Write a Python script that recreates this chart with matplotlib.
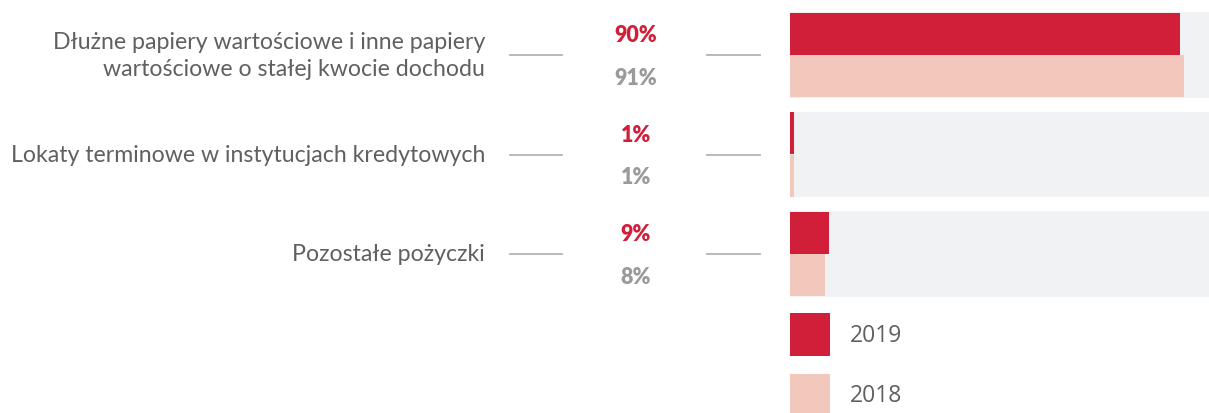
import matplotlib
matplotlib.use("Agg")
import matplotlib.pyplot as plt
import matplotlib.transforms as mtransforms
import numpy as np

# data
categories = ["Dłużne papiery wartościowe i inne papiery\nwartościowe o stałej kwocie dochodu",
              "Lokaty terminowe w instytucjach kredytowych",
              "Pozostałe pożyczki"]
values_2019 = [90, 1, 9]
values_2018 = [91, 1, 8]
years = ["2019", "2018"]

red = "#d11f3a"
pink = "#f2c7bc"
bg = "#f1f2f4"
grey_txt = "#9a9a9a"
label_col = "#606060"
line_col = "#b3b3b3"

W, H = 1209, 414
fig = plt.figure(figsize=(W / 100, H / 100), dpi=100)
px_per_pct = 390 / 90
left_px = 790
ax = fig.add_axes([left_px / W, 0, (W - left_px) / W, 1])
row_px = 99.5
top_px = 56
xmax = (W - left_px) / px_per_pct

rows = np.arange(len(categories))
h = 0.425

# grey background bars (run to the right edge)
bgs = ax.barh(rows, xmax * 1.2, height=0.855, left=0, color=bg, zorder=0)
for b in bgs:
    b.set_clip_on(False)
ax.barh(rows - h / 2, values_2019, height=h, color=red, zorder=2)
ax.barh(rows + h / 2, values_2018, height=h, color=pink, zorder=2)

# legend squares
leg_rows = [2.81, 3.42]
ax.barh(leg_rows, [40 / px_per_pct] * 2, height=0.43, color=[red, pink], left=0.1)
for r, yr in zip(leg_rows, years):
    ax.text(60 / px_per_pct, r, yr, fontsize=16.5, color=label_col,
            family="Open Sans", va="center", ha="left")

ax.set_xlim(0, xmax)
ax.set_ylim((H - top_px) / row_px, -top_px / row_px)
ax.axis("off")

tr = mtransforms.blended_transform_factory(fig.transFigure, ax.transData)

for i, cat in enumerate(categories):
    fig.text(485 / W, i, cat, transform=tr, ha="right", va="center",
             fontsize=16.7, color=label_col, family="Lato",
             linespacing=1.3)
    ax.plot([510 / W, 562 / W], [i, i], transform=tr, color=line_col,
            lw=1.3, clip_on=False)
    ax.plot([707 / W, 760 / W], [i, i], transform=tr, color=line_col,
            lw=1.3, clip_on=False)
    fig.text(636 / W, i - h / 2 + 0.01, f"{values_2019[i]}%", transform=tr,
             ha="center", va="center", fontsize=15.5, fontweight="heavy",
             color=red, family="Lato")
    fig.text(636 / W, i + h / 2 + 0.01, f"{values_2018[i]}%", transform=tr,
             ha="center", va="center", fontsize=15.5, fontweight="heavy",
             color=grey_txt, family="Lato")

fig.savefig("out.png", dpi=100)
